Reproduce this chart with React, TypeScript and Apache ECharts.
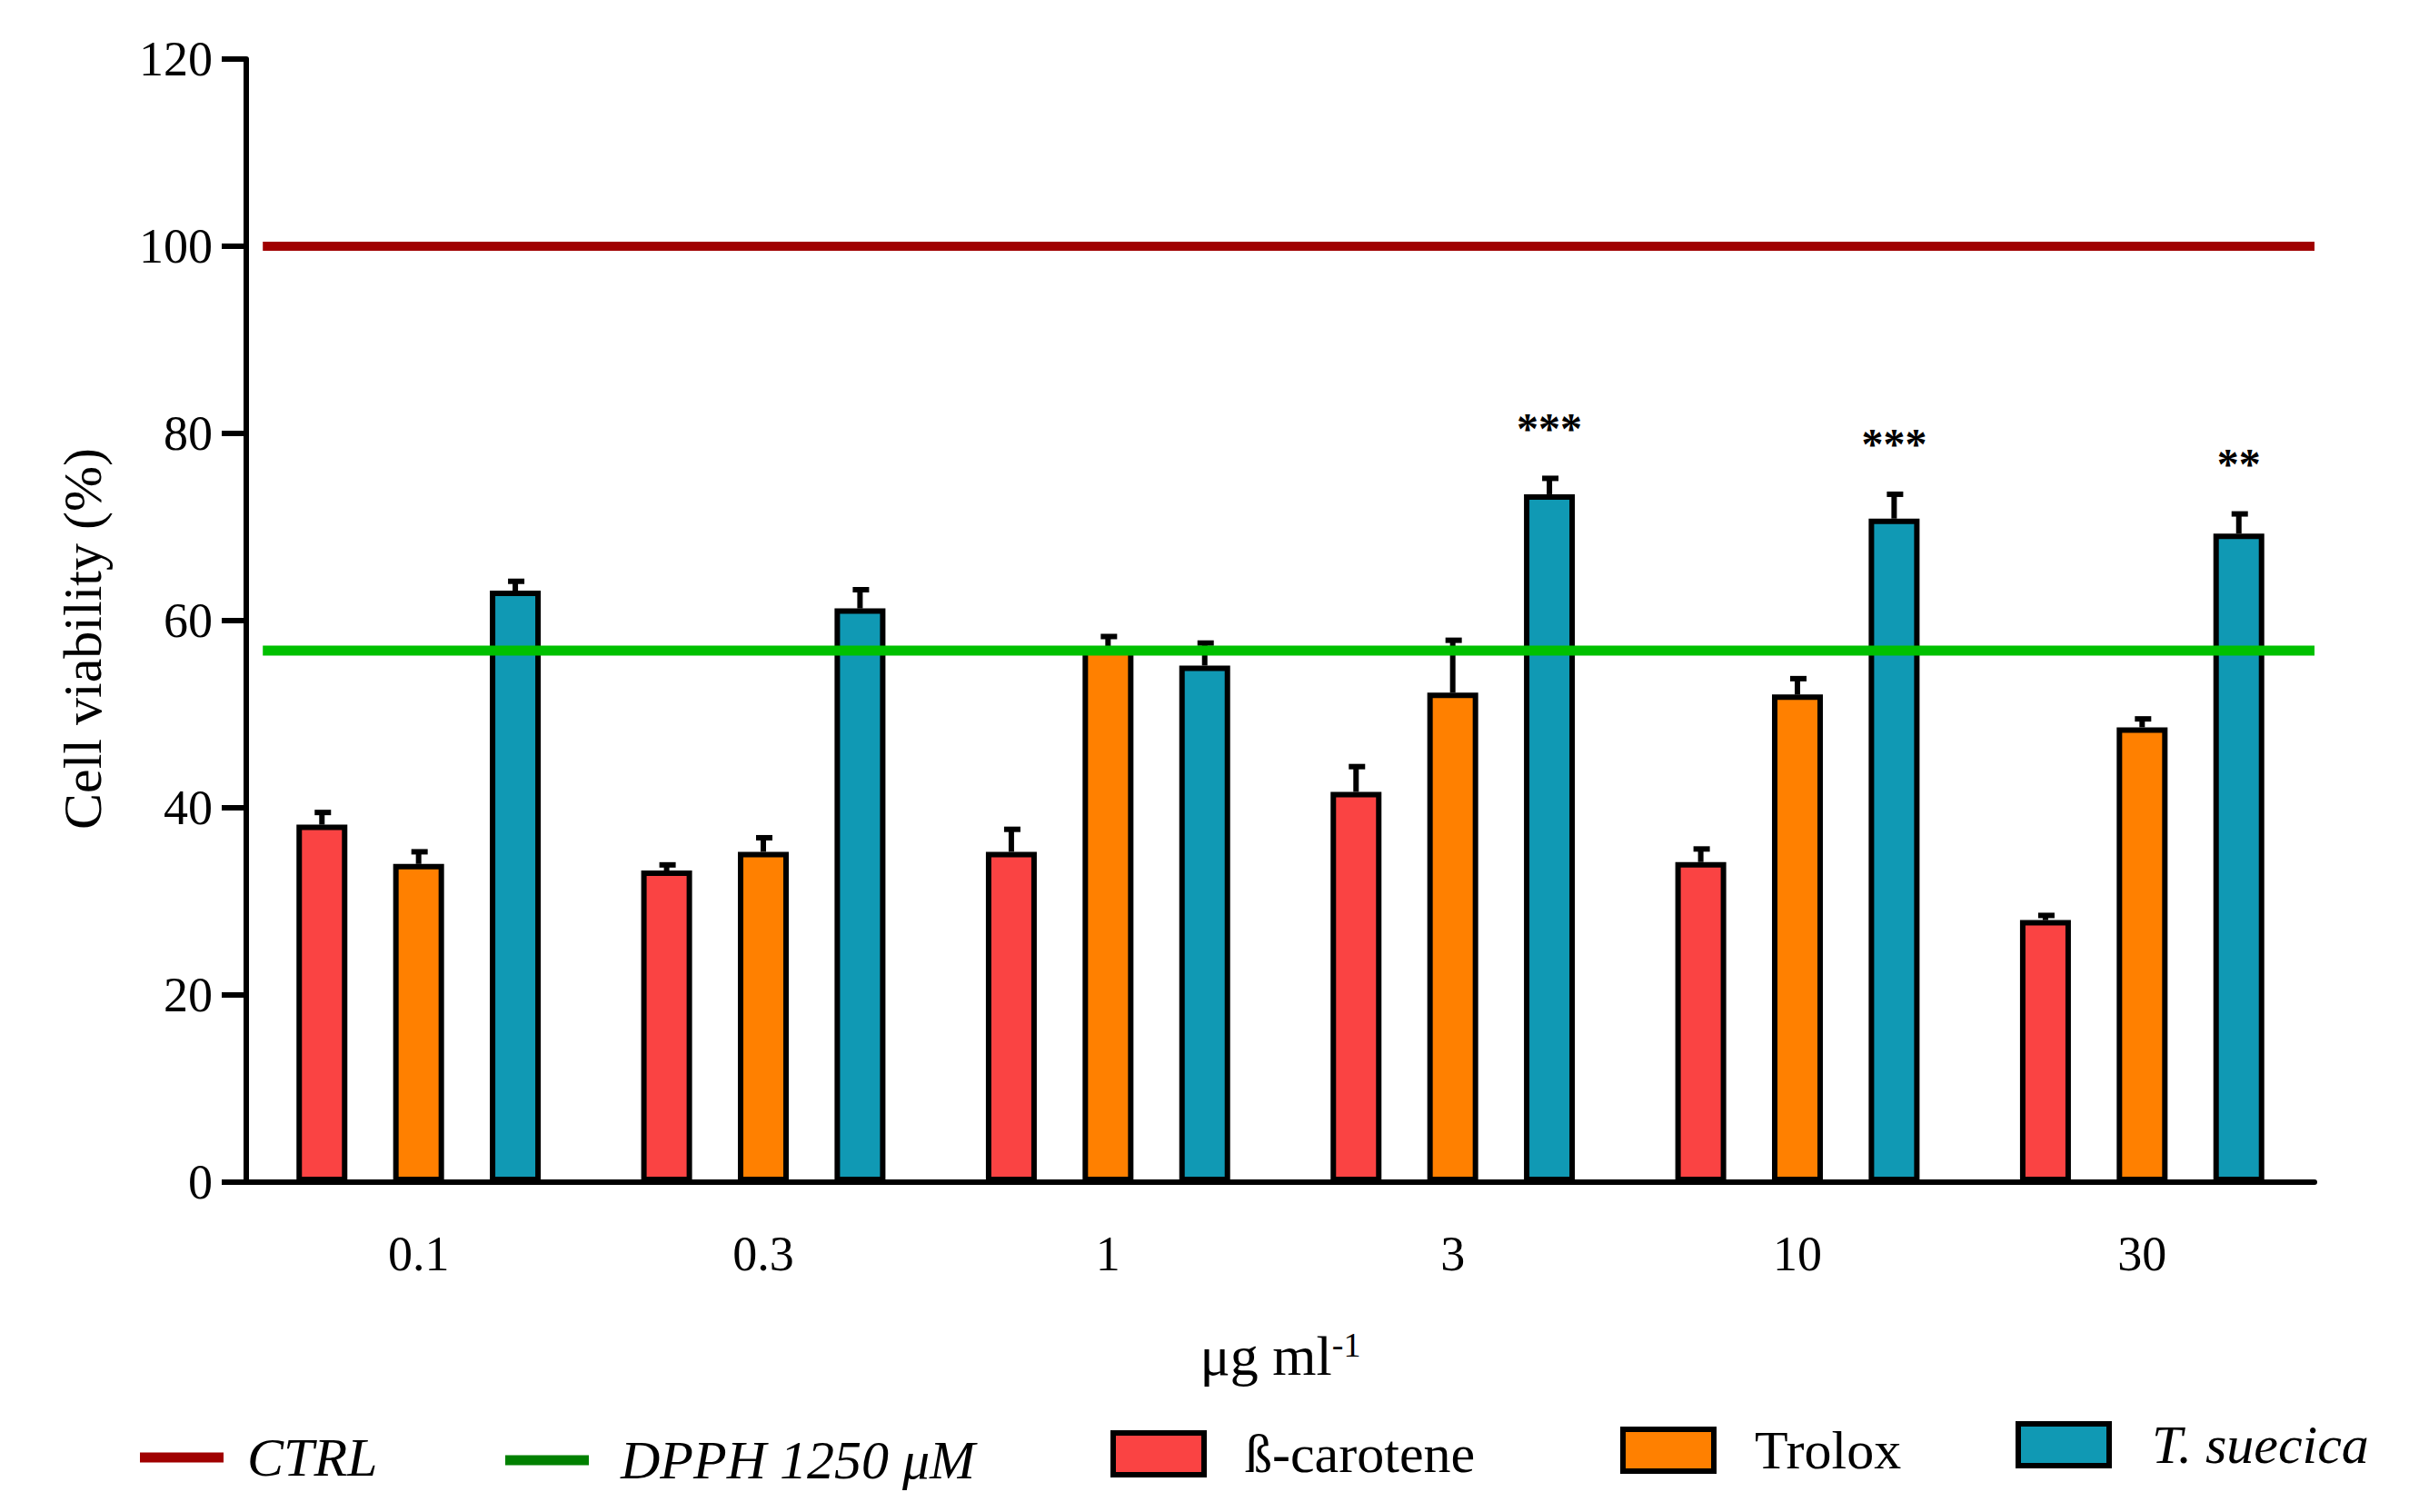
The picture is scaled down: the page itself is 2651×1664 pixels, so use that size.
import React, { useEffect, useRef } from "react";
import * as echarts from "echarts";

const categories = ["0.1", "0.3", "1", "3", "10", "30"];
const betaCarotene = [38.2, 33.3, 35.3, 41.7, 34.2, 28.0];
const betaCaroteneErr = [1.3, 0.6, 2.4, 2.7, 1.4, 0.5];
const trolox = [34.0, 35.3, 57.2, 52.3, 52.1, 48.6];
const troloxErr = [1.3, 1.5, 1.1, 5.6, 1.7, 0.9];
const suecica = [63.2, 61.3, 55.2, 73.5, 70.9, 69.3];
const suecicaErr = [1.0, 2.0, 2.4, 1.7, 2.6, 2.1];
const significance = ["", "", "", "***", "***", "**"];
const ctrlValue = 100;
const dpphValue = 56.8;
const yMin = 0;
const yMax = 120;
const yInterval = 20;

const FONT = "'Liberation Serif', 'Times New Roman', serif";
const BAR_W = 56;
const BAR_GAP = 0.9;
const SPACING = BAR_W * (1 + BAR_GAP);

const COLORS = {
  beta: "#FA4343",
  trolox: "#FF8000",
  suecica: "#1099B4",
  ctrl: "#A00000",
  dpph: "#00C000",
  dpphLegend: "#008000",
};

function errorSeries(values: number[], errs: number[], idx: number, withSig: boolean) {
  return {
    type: "custom",
    xAxisIndex: 0,
    yAxisIndex: 0,
    z: 4,
    silent: true,
    data: values.map((v, i) => [i, v, errs[i]]),
    renderItem: (params: any, api: any) => {
      const x = api.value(0);
      const v = api.value(1);
      const e = api.value(2);
      const p0 = api.coord([x, v]);
      const p1 = api.coord([x, v + e]);
      const cx = p0[0] + (idx - 1) * SPACING;
      const children: any[] = [
        {
          type: "line",
          shape: { x1: cx, y1: p0[1], x2: cx, y2: p1[1] },
          style: { stroke: "#000", lineWidth: 6 },
        },
        {
          type: "line",
          shape: { x1: cx - 8, y1: p1[1], x2: cx + 10, y2: p1[1] },
          style: { stroke: "#000", lineWidth: 6 },
        },
      ];
      const sig = withSig ? significance[params.dataIndex] : "";
      if (sig) {
        children.push({
          type: "text",
          x: cx,
          y: p1[1] - 55,
          style: {
            text: sig,
            fill: "#000",
            font: `bold 48px ${FONT}`,
            textAlign: "center",
            textVerticalAlign: "middle",
          },
        });
      }
      return { type: "group", children };
    },
  };
}

function barSeries(name: string, values: number[], color: string) {
  return {
    name,
    type: "bar",
    xAxisIndex: 0,
    yAxisIndex: 0,
    data: values,
    barWidth: BAR_W,
    barGap: `${BAR_GAP * 100}%`,
    z: 2,
    itemStyle: { color, borderColor: "#000", borderWidth: 6 },
  };
}

function legendItem(name: string, left: number, top: number, opts: any) {
  return {
    data: [opts.dataItem ? { name, ...opts.dataItem } : { name }],
    left,
    top,
    padding: 0,
    selectedMode: false,
    icon: "rect",
    itemWidth: opts.w,
    itemHeight: opts.h,
    itemStyle: opts.itemStyle,
    textStyle: {
      fontFamily: FONT,
      fontSize: 60,
      lineHeight: 60,
      color: "#000",
      fontStyle: opts.italic ? "italic" : "normal",
      padding: [0, 0, 0, opts.gap],
    },
  };
}

export default function App() {
  const ref = useRef<HTMLDivElement>(null);

  useEffect(() => {
    document.body.style.margin = "0";
    if (!ref.current) return;
    const chart = echarts.init(ref.current, null, { renderer: "svg" });
    const boxStyle = { borderColor: "#000", borderWidth: 6 };
    chart.setOption({
      animation: false,
      backgroundColor: "#fff",
      grid: { left: 271, right: 104, top: 65, bottom: 363, containLabel: false },
      legend: [
        legendItem("CTRL", 154, 1574, {
          w: 92,
          h: 11,
          italic: true,
          gap: 21,
          dataItem: { itemStyle: { color: COLORS.ctrl, borderWidth: 0 } },
        }),
        legendItem("DPPH 1250 μM", 556, 1577, {
          w: 92,
          h: 11,
          italic: true,
          gap: 30,
          dataItem: { itemStyle: { color: COLORS.dpphLegend, borderWidth: 0 } },
        }),
        legendItem("ß-carotene", 1222, 1570, { w: 100, h: 46, gap: 40, itemStyle: boxStyle }),
        legendItem("Trolox", 1783, 1566, { w: 100, h: 46, gap: 40, itemStyle: boxStyle }),
        legendItem("T. suecica", 2218, 1560, { w: 100, h: 46, italic: true, gap: 42, itemStyle: boxStyle }),
      ],
      xAxis: [
        {
          type: "category",
          data: categories,
          boundaryGap: true,
          axisLine: { show: true, lineStyle: { color: "#000", width: 6 } },
          axisTick: { show: false },
          axisLabel: { color: "#000", fontFamily: FONT, fontSize: 54, margin: 52 },
          splitLine: { show: false },
          name: "{a|μg ml}{b|-1}",
          nameLocation: "middle",
          nameGap: 160,
          nameTextStyle: {
            color: "#000",
            rich: {
              a: { fontFamily: FONT, fontSize: 62, color: "#000" },
              b: { fontFamily: FONT, fontSize: 38, color: "#000", verticalAlign: "top" },
            },
          },
        },
        { type: "value", min: 0, max: 1, show: false },
      ],
      yAxis: {
        type: "value",
        min: yMin,
        max: yMax,
        interval: yInterval,
        axisLine: { show: true, lineStyle: { color: "#000", width: 6 } },
        axisTick: { show: true, inside: false, length: 27, lineStyle: { color: "#000", width: 6 } },
        axisLabel: { color: "#000", fontFamily: FONT, fontSize: 54, margin: 37 },
        splitLine: { show: false },
        name: "Cell viability (%)",
        nameLocation: "middle",
        nameGap: 150,
        nameTextStyle: { color: "#000", fontFamily: FONT, fontSize: 60, padding: [0, 40, 0, 0] },
      },
      series: [
        barSeries("ß-carotene", betaCarotene, COLORS.beta),
        barSeries("Trolox", trolox, COLORS.trolox),
        barSeries("T. suecica", suecica, COLORS.suecica),
        errorSeries(betaCarotene, betaCaroteneErr, 0, false),
        errorSeries(trolox, troloxErr, 1, false),
        errorSeries(suecica, suecicaErr, 2, true),
        {
          name: "CTRL",
          type: "line",
          xAxisIndex: 1,
          yAxisIndex: 0,
          data: [[0.008, ctrlValue], [1, ctrlValue]],
          symbol: "none",
          color: COLORS.ctrl,
          itemStyle: { color: COLORS.ctrl },
          lineStyle: { color: COLORS.ctrl, width: 10 },
          z: 6,
          silent: true,
        },
        {
          name: "DPPH 1250 μM",
          type: "line",
          xAxisIndex: 1,
          yAxisIndex: 0,
          data: [[0.008, dpphValue], [1, dpphValue]],
          symbol: "none",
          color: COLORS.dpph,
          itemStyle: { color: COLORS.dpph },
          lineStyle: { color: COLORS.dpph, width: 11 },
          z: 6,
          silent: true,
        },
      ],
    });
    return () => chart.dispose();
  }, []);

  return <div ref={ref} style={{ width: 2651, height: 1664 }} />;
}
